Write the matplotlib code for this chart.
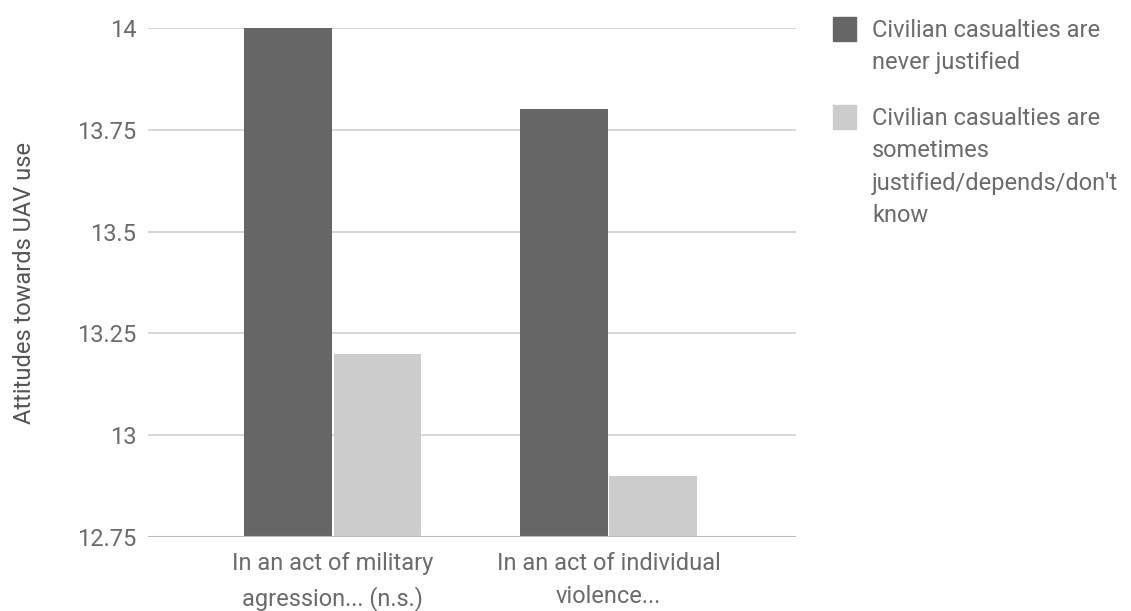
import matplotlib.pyplot as plt
import numpy as np

plt.rcParams['font.family'] = ['Roboto', 'DejaVu Sans']

categories = ["In an act of military\nagression... (n.s.)", "In an act of individual\nviolence..."]
never_justified = [14.0, 13.8]
sometimes_justified = [13.2, 12.9]
series_labels = ["Civilian casualties are\nnever justified",
                 "Civilian casualties are\nsometimes\njustified/depends/don't\nknow"]
yticks = [12.75, 13.0, 13.25, 13.5, 13.75, 14.0]
ytick_labels = ["12.75", "13", "13.25", "13.5", "13.75", "14"]

dark = "#666666"
light = "#cccccc"
text_grey = "#6b6b6b"
fs = 17

fig = plt.figure(figsize=(11.31, 6.11), dpi=100)
ax = fig.add_axes([148 / 1131, 1 - 537 / 611, 648 / 1131, 509 / 611])

x = np.arange(len(categories))
w = 0.318
ax.bar(x - w / 2 - 0.003, never_justified, width=w, bottom=0, color=dark, zorder=3)
ax.bar(x + w / 2 + 0.003, sometimes_justified, width=w, bottom=0, color=light, zorder=3)

ax.set_ylim(12.75, 14.0)
ax.set_xlim(-0.67, 1.68)
ax.set_yticks(yticks)
ax.set_yticklabels(ytick_labels)
ax.set_xticks(x)
ax.set_xticklabels(categories, linespacing=1.55)

ax.grid(axis='y', color="#d0d0d0", linewidth=1.2, zorder=0)
ax.axhline(12.75, color="#bbbbbb", linewidth=1.5, zorder=4)
for s in ax.spines.values():
    s.set_visible(False)
ax.tick_params(axis='both', length=0, labelsize=fs, labelcolor=text_grey)
ax.tick_params(axis='y', pad=8.5)
ax.tick_params(axis='x', pad=11)

ax.set_ylabel("Attitudes towards UAV use", fontsize=fs, color="#555555")
ax.yaxis.set_label_coords(-(148 - 36) / 648, 0.5)

# legend drawn by hand to keep the wrapped labels aligned
legend_y = [17, 105]
for lbl, col, ly in zip(series_labels, [dark, light], legend_y):
    fig.patches.append(plt.Rectangle((833 / 1131, 1 - (ly + 24) / 611), 23 / 1131, 24 / 611,
                                     transform=fig.transFigure, color=col, figure=fig))
    fig.text(872 / 1131, 1 - (ly + 2) / 611, lbl, fontsize=fs, color=text_grey,
             va='top', ha='left', linespacing=1.52)

fig.savefig("out.png", dpi=100)
